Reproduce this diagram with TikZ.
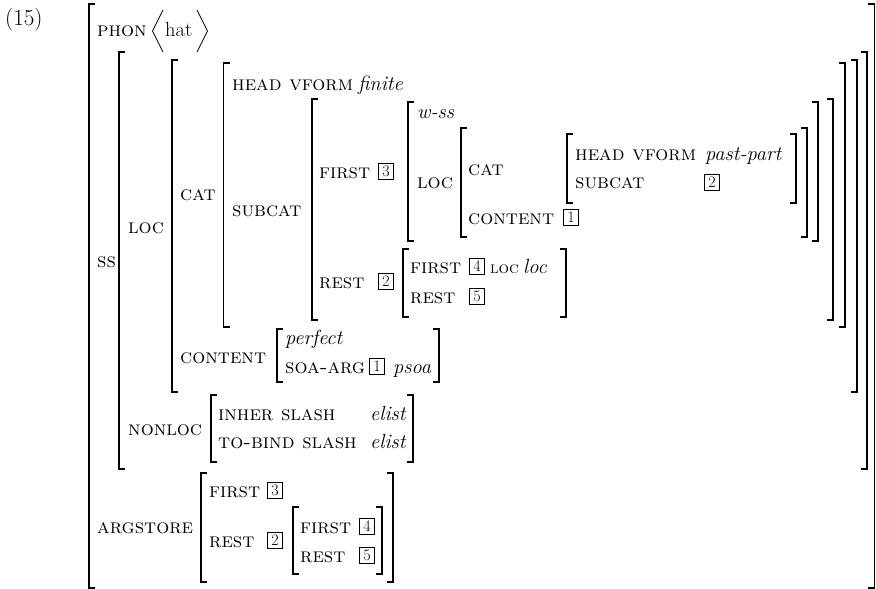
\documentclass[tikz,border=0pt]{standalone}
\begin{document}
\begin{tikzpicture}[x=1pt,y=-1pt,
  brk/.style={line width=1.2pt, line cap=butt, line join=miter},
  sc/.style={anchor=base west, inner sep=0pt, font=\fontsize{20.5}{22}\selectfont\scshape},
  itx/.style={anchor=base west, inner sep=0pt, font=\fontsize{20.5}{22}\selectfont\itshape},
  rm/.style={anchor=base west, inner sep=0pt, font=\fontsize{20.5}{22}\selectfont},
  tag/.style={draw, line width=0.7pt, minimum width=15pt, minimum height=16pt, inner sep=0pt, font=\fontsize{16}{16}\selectfont}]
\useasboundingbox (0,0) rectangle (876,589);
\newcommand\avmL[3]{\draw[brk] (#1+6,#2) -- (#1,#2) -- (#1,#3) -- (#1+6,#3);}
\newcommand\avmR[3]{\draw[brk] (#1-6,#2) -- (#1,#2) -- (#1,#3) -- (#1-6,#3);}
% brackets
\avmL{89}{4}{588}   \avmR{874.4}{4}{588}
\avmL{119}{52}{469} \avmR{867}{52}{469}
\avmL{172}{60}{392} \avmR{857}{60}{392}
\avmL{223.5}{63}{327} \avmR{845}{63}{327}
\avmL{312}{99}{320} \avmR{833}{99}{320}
\avmL{408}{102}{241} \avmR{818}{102}{241}
\avmL{461}{128}{237} \avmR{807}{128}{237}
\avmL{567}{134}{203} \avmR{796}{134}{203}
\avmL{403}{249}{317} \avmR{566}{249}{317}
\avmL{277}{329}{382} \avmR{439}{329}{382}
\avmL{211}{395}{462} \avmR{413}{395}{462}
\avmL{201}{473}{582} \avmR{393}{473}{582}
\avmL{293}{507}{574} \avmR{382}{507}{574}
% angle brackets
\draw[line width=0.7pt] (163,10) -- (152.5,31) -- (163,52);
\draw[line width=0.7pt] (197,10) -- (207.5,31) -- (197,52);
% texts
\node[rm, font=\fontsize{23}{25}\selectfont] (ex) at (5,25) {(15)};
\node[sc] (phon) at (97,36) {phon};
\node[rm] (hat) at (165,36) {hat};
\node[sc] (ss) at (97,267) {ss};
\node[sc] (loc) at (128,233) {loc};
\node[sc] (cat) at (180,200) {cat};
\node[sc] (headvf) at (232,90) {head vform};
\node[itx] (finite) at (358,90) {finite};
\node[sc] (subcat) at (232,216) {subcat};
\node[sc] (first1) at (319,178) {first};
\node[tag] (t3a) at (386,171) {3};
\node[itx] (wss) at (417,118) {w-ss};
\node[sc] (loc2) at (417,188) {loc};
\node[sc] (cat2) at (468,175) {cat};
\node[sc] (cont2) at (468,224) {content};
\node[tag] (t1a) at (571,217) {1};
\node[sc] (headvf2) at (575,160) {head vform};
\node[itx] (pastpart) at (705,160) {past-part};
\node[sc] (subcat2) at (575,188) {subcat};
\node[tag] (t2a) at (712,182) {2};
\node[sc] (rest1) at (319,288) {rest};
\node[tag] (t2b) at (386,281) {2};
\node[sc] (first2) at (410,273) {first};
\node[tag] (t4a) at (477,266) {4};
\node[sc, font=\fontsize{16.5}{17}\selectfont\scshape] (loc3) at (490,273) {loc};
\node[itx] (locv) at (523,273) {loc};
\node[sc] (rest2) at (410,303) {rest};
\node[tag] (t5a) at (477,296) {5};
\node[sc] (cont) at (180,363) {content};
\node[itx] (perfect) at (285,344) {perfect};
\node[sc] (soaarg) at (285,373) {soa-arg};
\node[tag] (t1b) at (377,366) {1};
\node[itx] (psoa) at (393,373) {psoa};
\node[sc] (nonloc) at (128,435) {nonloc};
\node[sc] (inher) at (218,420) {inher slash};
\node[itx] (elist1) at (370,420) {elist};
\node[sc] (tobind) at (218,448) {to-bind slash};
\node[itx] (elist2) at (370,448) {elist};
\node[sc] (argst) at (97,533) {argstore};
\node[sc] (first3) at (209,497) {first};
\node[tag] (t3b) at (275,490) {3};
\node[sc] (rest3) at (209,547) {rest};
\node[tag] (t2c) at (275,540) {2};
\node[sc] (first4) at (300,533) {first};
\node[tag] (t4b) at (367,526) {4};
\node[sc] (rest4) at (300,562) {rest};
\node[tag] (t5b) at (367,555) {5};
\end{tikzpicture}
\end{document}
